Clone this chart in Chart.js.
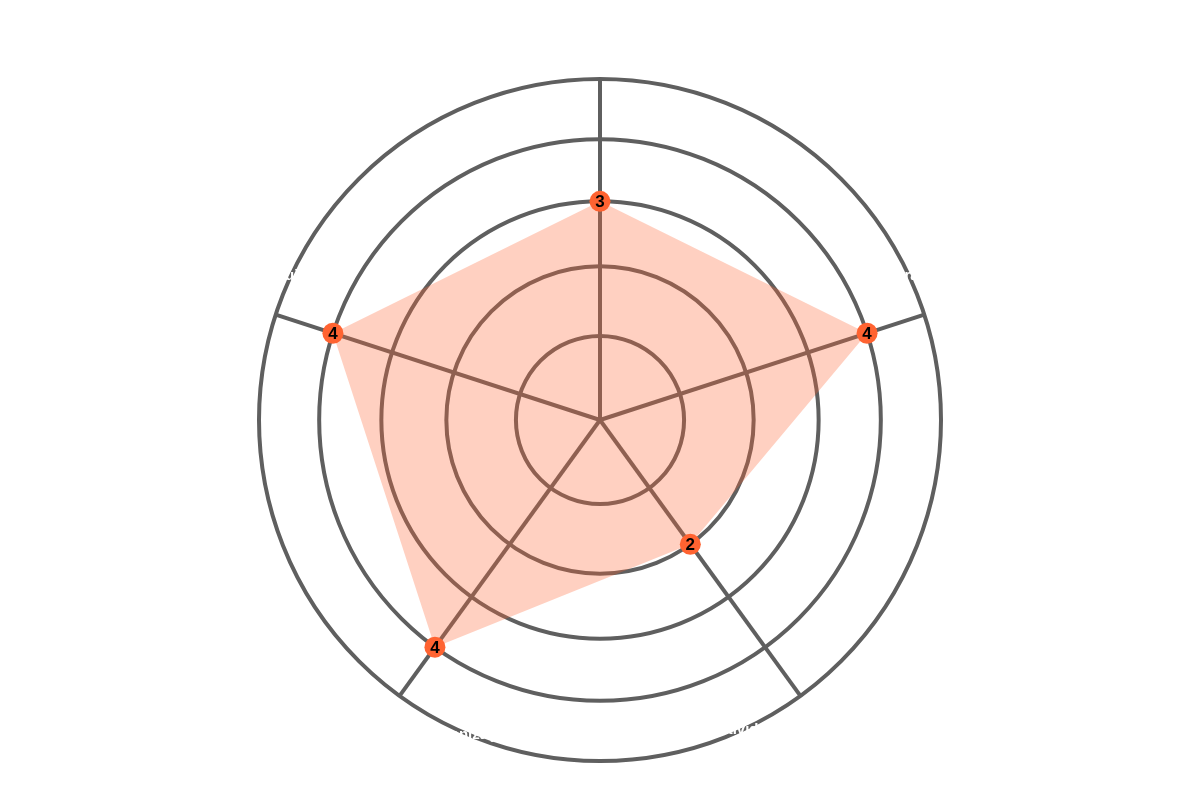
<!DOCTYPE html>
<html>
<head>
<meta charset="utf-8">
<script src="https://cdn.jsdelivr.net/npm/chart.js@4.4.1/dist/chart.umd.min.js"></script>
<style>
  html, body { margin: 0; padding: 0; background: #fff; }
  #wrap { width: 1200px; height: 801px; }
</style>
</head>
<body>
<div id="wrap"><canvas id="radarChart"></canvas></div>
<script>
// data
const categories = ['Comunicação', 'Liderança', 'Criatividade', 'Organização', 'Equipe'];
const scores = [3, 4, 2, 4, 4];
const ticksMax = 5;

// rings in the picture are not evenly spaced, so use a radial scale with a power curve
const POW = 0.87;
class PowRadialScale extends Chart.RadialLinearScale {
    static id = 'radialPow';
    static defaults = {};
    getDistanceFromCenterForValue(value) {
        if (value === null || value === undefined || isNaN(value)) return NaN;
        let t = (value - this.min) / (this.max - this.min);
        if (this.options.reverse) t = 1 - t;
        return this.drawingArea * Math.pow(Math.max(t, 0), POW);
    }
    getValueForDistanceFromCenter(distance) {
        if (distance === null || distance === undefined || isNaN(distance)) return NaN;
        const t = Math.pow(distance / this.drawingArea, 1 / POW);
        return this.options.reverse ? this.max - t * (this.max - this.min) : this.min + t * (this.max - this.min);
    }
}
Chart.register(PowRadialScale);

// numbers on the points
const valueLabels = {
    id: 'valueLabels',
    afterDatasetsDraw(chart) {
        const ctx = chart.ctx;
        const meta = chart.getDatasetMeta(0);
        ctx.save();
        ctx.font = 'bold 17px "Liberation Sans", Arial, sans-serif';
        ctx.fillStyle = '#000';
        ctx.textAlign = 'center';
        ctx.textBaseline = 'middle';
        meta.data.forEach((pt, i) => {
            ctx.fillText(String(chart.data.datasets[0].data[i]), pt.x, pt.y + 1);
        });
        ctx.restore();
    }
};

// white category names, drawn on top of the rings
const labelAngles = [0, 65, 155.5, 202.6, 295];
const labelOffset = [32, 0, 0, 0, 0];
const categoryLabels = {
    id: 'categoryLabels',
    afterDraw(chart) {
        const r = chart.scales.r;
        const ctx = chart.ctx;
        ctx.save();
        ctx.font = 'bold 15px "Liberation Sans", Arial, sans-serif';
        ctx.fillStyle = '#fff';
        ctx.textAlign = 'center';
        ctx.textBaseline = 'middle';
        chart.data.labels.forEach((lbl, i) => {
            const a = labelAngles[i] * Math.PI / 180;
            const d = r.drawingArea + labelOffset[i];
            ctx.fillText(lbl, r.xCenter + d * Math.sin(a), r.yCenter - d * Math.cos(a));
        });
        ctx.restore();
    }
};

const ctx = document.getElementById('radarChart').getContext('2d');
new Chart(ctx, {
    type: 'radar',
    data: {
        labels: categories,
        datasets: [{
            label: 'Pontuação',
            data: scores,
            backgroundColor: 'rgba(255, 99, 51, 0.3)',
            borderWidth: 0,
            borderColor: 'rgba(0,0,0,0)',
            fill: true,
            pointRadius: 10.5,
            pointHoverRadius: 10.5,
            pointBorderWidth: 0,
            pointBackgroundColor: '#ff6331'
        }]
    },
    options: {
        responsive: true,
        maintainAspectRatio: false,
        animation: false,
        layout: {
            padding: { top: 79, bottom: 40 }
        },
        scales: {
            r: {
                type: 'radialPow',
                min: 0,
                max: ticksMax,
                ticks: { stepSize: 1, display: false },
                grid: { circular: true, color: '#5f5f5f', lineWidth: 4 },
                angleLines: { color: '#5f5f5f', lineWidth: 4 },
                pointLabels: { display: false }
            }
        },
        plugins: {
            legend: { display: false },
            tooltip: { enabled: false }
        }
    },
    plugins: [valueLabels, categoryLabels]
});
</script>
</body>
</html>
